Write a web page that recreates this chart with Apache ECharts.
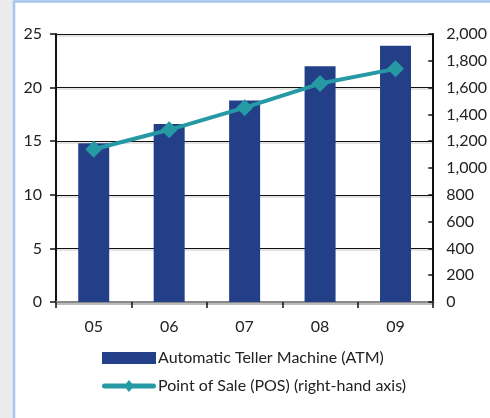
<!DOCTYPE html>
<html><head><meta charset="utf-8">
<script src="https://cdn.jsdelivr.net/npm/echarts@6/dist/echarts.min.js"></script>
<style>html,body{margin:0;padding:0;background:#ebebed;}#c{width:490px;height:418px;}</style>
</head><body><div id="c"></div><script>
const categories = ['05', '06', '07', '08', '09'];
const atmValues = [14.8, 16.6, 18.8, 22.0, 23.9];
const posValues = [1140, 1285, 1450, 1630, 1740];
const atmName = 'Automatic Teller Machine (ATM)';
const posName = 'Point of Sale (POS) (right-hand axis)';

const FONT = 'Lato, "Noto Sans", sans-serif';
const FS = 16;
const lineDiamondIcon = 'path://M2.5,3.5 L51.5,3.5 A2.5,2.5 0 0 1 51.5,8.5 L2.5,8.5 A2.5,2.5 0 0 1 2.5,3.5 Z M27,0 L32,6 L27,12 L22,6 Z';
const chart = echarts.init(document.getElementById('c'), null, {renderer: 'canvas'});
chart.setOption({
  animation: false,
  backgroundColor: '#ebebed',
  textStyle: {fontFamily: FONT},
  graphic: [{
    type: 'rect', z: -10, silent: true,
    shape: {x: 14, y: 1.5, width: 480, height: 420},
    style: {fill: '#ffffff', stroke: '#a3c6ec', lineWidth: 2.5}
  }],
  grid: {left: 56, right: 53, top: 34, bottom: 116, containLabel: false},
  legend: {
    orient: 'vertical', left: 102, top: 350, padding: 0,
    itemWidth: 54, itemHeight: 12, itemGap: 12,
    textStyle: {fontSize: FS, color: '#222', fontFamily: FONT, padding: [0, 0, 0, -3]},
    data: [
      {name: atmName, icon: 'rect'},
      {name: posName, icon: lineDiamondIcon}
    ]
  },
  xAxis: [{
    type: 'category', data: categories, position: 'bottom',
    axisLine: {lineStyle: {color: '#111', width: 2, shadowColor: '#bbb', shadowOffsetY: 2}},
    axisTick: {show: true, length: 6, lineStyle: {color: '#111', width: 1.5}},
    axisLabel: {fontSize: FS, color: '#222', margin: 17, fontFamily: FONT}
  }, {
    type: 'category', data: categories, position: 'top',
    axisLine: {show: true, lineStyle: {color: '#8a8a8a', width: 2}},
    axisTick: {show: false}, axisLabel: {show: false}
  }],
  yAxis: [{
    type: 'value', min: 0, max: 25, interval: 5, position: 'left',
    axisLine: {show: true, lineStyle: {color: '#111', width: 2}},
    axisTick: {show: true, length: 6, lineStyle: {color: '#111', width: 1.5}},
    axisLabel: {fontSize: FS, color: '#222', margin: 14, fontFamily: FONT},
    splitLine: {show: true, lineStyle: {color: '#111', width: 1, shadowColor: '#c8c8c8', shadowOffsetY: 1.5}}
  }, {
    type: 'value', min: 0, max: 2000, interval: 200, position: 'right',
    axisLine: {show: true, lineStyle: {color: '#111', width: 2}},
    axisTick: {show: true, inside: true, length: 5, lineStyle: {color: '#111', width: 1.5}},
    axisLabel: {fontSize: FS, color: '#222', margin: 13, fontFamily: FONT,
      formatter: v => v.toLocaleString('en-US')},
    splitLine: {show: false}
  }],
  series: [{
    name: atmName, type: 'bar', data: atmValues, barWidth: 31,
    itemStyle: {color: '#233f88'}, xAxisIndex: 0, yAxisIndex: 0
  }, {
    name: posName, type: 'line', data: posValues, yAxisIndex: 1, xAxisIndex: 0,
    symbol: 'diamond', symbolSize: 17,
    lineStyle: {color: '#2599a4', width: 4},
    itemStyle: {color: '#2599a4'}
  }]
});
</script></body></html>
